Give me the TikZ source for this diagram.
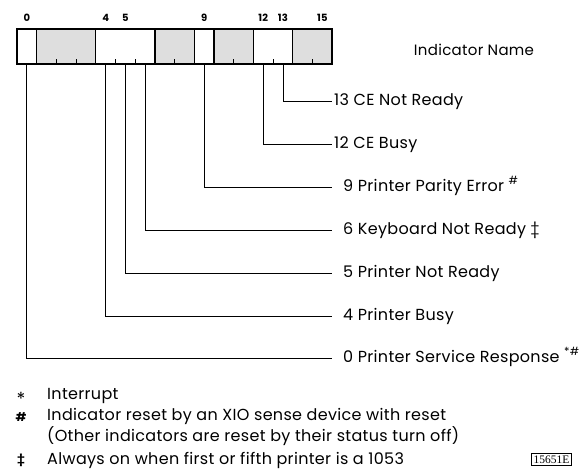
\documentclass[tikz,border=0pt]{standalone}
\usepackage{fontspec}
\setmainfont{Poppins}[LetterSpace=2]
\newfontfamily\figfont{Liberation Serif}
\usetikzlibrary{positioning}
\newcommand{\bw}{19.7}

\begin{document}
\begin{tikzpicture}[x=1pt,y=-1pt,
  lbl/.style={anchor=west,inner ysep=0pt,inner xsep=11pt,text height=12pt,text depth=4pt,font=\fontsize{16}{18}\selectfont},
  near/.style={inner xsep=2pt},
  bitno/.style={font=\fontsize{10}{11}\selectfont\bfseries},
  note/.style={anchor=west,inner sep=0pt,align=left,font=\fontsize{16}{16}\selectfont},
  notesym/.style={font=\fontsize{12}{12}\selectfont\bfseries}]
  \useasboundingbox (0,0) rectangle (581,472);
  % register, shaded bits are unused
  \foreach \a/\b in {1/4,7/9,10/12,14/16}
    \fill[black!13] ({17+\bw*\a},29) rectangle ({17+\bw*\b},64);
  \draw[line width=1.2pt] (17,29) rectangle (332,64);
  \foreach \i in {1,4,7,9,10,12,14}
    \draw[line width=1.2pt] ({17+\bw*\i},29) -- ({17+\bw*\i},64);
  \foreach \i in {2,3,5,6,8,11,13,15}
    \draw[thick] ({17+\bw*\i},64) -- ({17+\bw*\i},59);
  \foreach \i in {0,4,5,9,12,13,15}
    \node[bitno] at ({17+\bw*(\i+0.5)},18) {\i};
  \foreach \i in {0,4,5,6,9,12,13}
    \coordinate (b\i) at ({17+\bw*(\i+0.5)},64);

  \node at (474,50) [font=\fontsize{15}{16}\selectfont] (title) {Indicator Name};

  % indicator names
  \node[lbl,near] (n13) at (332,101) {13 CE Not Ready};
  \node[lbl,near] (n12) at (332,144) {12 CE Busy};
  \node[lbl] (n9) at (332,187) {9 Printer Parity Error \textsuperscript{\#}};
  \node[lbl] (n6) at (332,230) {6 Keyboard Not Ready \ddag};
  \node[lbl] (n5) at (332,273) {5 Printer Not Ready};
  \node[lbl] (n4) at (332,316) {4 Printer Busy};
  \node[lbl] (n0) at (332,358) {0 Printer Service Response \textsuperscript{*\#}};
  \foreach \i in {13,12,9,6,5,4,0}
    \draw[thick] (b\i) |- (n\i);

  % footnotes
  \node[notesym,font=\fontsize{18}{18}\selectfont] (s1) at (21,399) {*};
  \node[note] (f1) at (47,396) {Interrupt};
  \node[notesym] (s2) at (21,417) {\#};
  \node[note] (f2) at (47,427) {Indicator reset by an XIO sense device with reset\\(Other indicators are reset by their status turn off)};
  \node[notesym] (s3) at (21,460) {\ddag};
  \node[note] (f3) at (47,460) {Always on when first or fifth printer is a 1053};
  \node[draw,inner xsep=2pt,inner ysep=2pt,font=\fontsize{11.5}{12}\figfont] (fig) at (551.5,459.5) {15651E};
\end{tikzpicture}
\end{document}
